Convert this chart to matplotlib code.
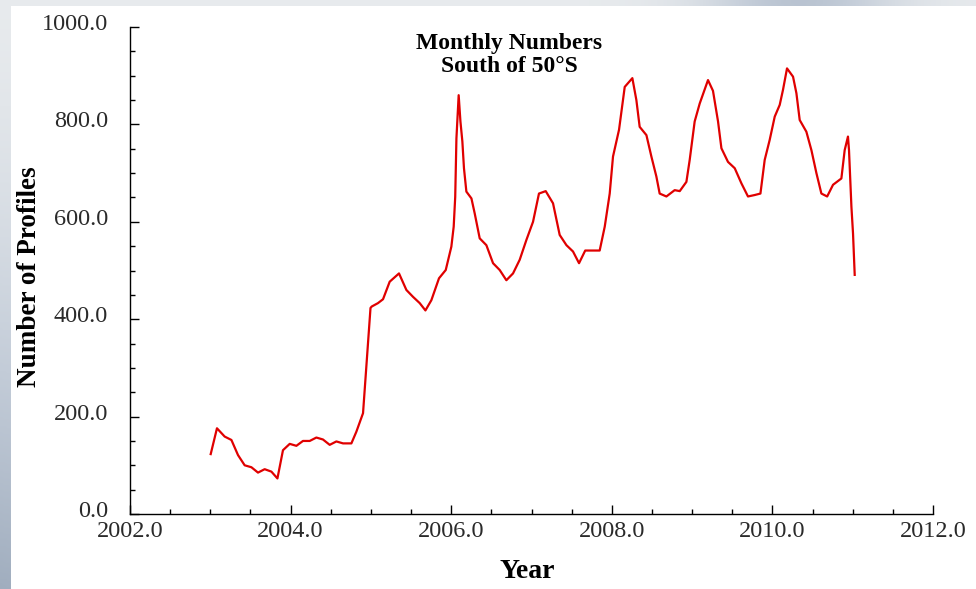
import numpy as np
import matplotlib
matplotlib.use("Agg")
import matplotlib.pyplot as plt
import matplotlib.transforms as mtransforms
from matplotlib.ticker import MultipleLocator, FormatStrFormatter
from matplotlib.patches import Rectangle
from matplotlib.colors import LinearSegmentedColormap

# Monthly profile counts south of 50°S (decimal year, count)
years = [
    2003.005, 2003.083, 2003.179, 2003.263, 2003.345, 2003.428, 2003.512, 2003.594,
    2003.677, 2003.761, 2003.836, 2003.905, 2003.989, 2004.072, 2004.154, 2004.238,
    2004.321, 2004.403, 2004.487, 2004.570, 2004.653, 2004.757, 2004.819, 2004.902,
    2004.995, 2005.010, 2005.088, 2005.151, 2005.234, 2005.350, 2005.442, 2005.524,
    2005.608, 2005.679, 2005.753, 2005.848, 2005.932, 2006.002, 2006.031, 2006.050,
    2006.065, 2006.093, 2006.115, 2006.139, 2006.159, 2006.189, 2006.252, 2006.293,
    2006.355, 2006.438, 2006.521, 2006.604, 2006.687, 2006.770, 2006.853, 2006.937,
    2007.019, 2007.093, 2007.177, 2007.268, 2007.351, 2007.435, 2007.517, 2007.592,
    2007.669, 2007.849, 2007.912, 2007.974, 2008.015, 2008.090, 2008.161, 2008.256,
    2008.306, 2008.347, 2008.431, 2008.493, 2008.555, 2008.596, 2008.680, 2008.783,
    2008.846, 2008.929, 2008.970, 2009.032, 2009.095, 2009.198, 2009.260, 2009.323,
    2009.365, 2009.447, 2009.531, 2009.614, 2009.696, 2009.780, 2009.851, 2009.904,
    2009.966, 2010.029, 2010.091, 2010.132, 2010.182, 2010.257, 2010.299, 2010.340,
    2010.423, 2010.486, 2010.548, 2010.610, 2010.682, 2010.755, 2010.859, 2010.900,
    2010.941, 2010.954, 2010.984, 2011.004, 2011.025,
]
profiles = [
    123, 176, 159, 152, 121, 100, 96, 85,
    92, 87, 73, 131, 144, 140, 150, 150,
    157, 153, 142, 149, 145, 145, 169, 207,
    423, 426, 433, 441, 477, 494, 460, 446,
    433, 418, 439, 484, 501, 549, 590, 651,
    771, 860, 806, 765, 710, 662, 648, 617,
    566, 552, 515, 501, 480, 494, 522, 563,
    600, 658, 663, 638, 573, 552, 539, 515,
    541, 541, 590, 658, 734, 789, 877, 895,
    850, 795, 778, 734, 693, 658, 652, 665,
    663, 682, 727, 806, 843, 891, 869, 806,
    751, 723, 710, 679, 652, 655, 658, 727,
    768, 816, 840, 871, 915, 898, 864, 809,
    785, 747, 700, 658, 652, 676, 689, 747,
    775, 747, 631, 576, 491,
]

title_top = "Monthly Numbers"
title_bottom = "South of 50°S"
x_label = "Year"
y_label = "Number of Profiles"

serif = ["Liberation Serif", "DejaVu Serif"]
plt.rcParams["font.family"] = serif

W, H = 976, 589
fig = plt.figure(figsize=(W / 100, H / 100), dpi=100)
fig.patch.set_facecolor("#d5dbe1")

# soft grey-blue backdrop behind the white panel
bg = fig.add_axes([0, 0, 1, 1], zorder=-10)
gy, gx = np.mgrid[0:1:300j, 0:1:300j]
shade = 0.9 - 0.55 * gy ** 1.5 * (1 - gx) - 0.35 * np.exp(-((gx - 0.82) / 0.1) ** 2) * (1 - gy)
backdrop = LinearSegmentedColormap.from_list("backdrop", ["#9aa8ba", "#c3ccd8", "#eef0f1"])
bg.imshow(shade, cmap=backdrop, vmin=0.3, vmax=0.95, aspect="auto",
          extent=[0, 1, 0, 1], origin="upper")
bg.axis("off")
fig.patches.append(Rectangle((11 / W, 0), 1 - 11 / W, 1 - 6 / H,
                             transform=fig.transFigure, facecolor="white",
                             edgecolor="none", zorder=-5))

ax = fig.add_axes([130 / W, 1 - 514 / H, (933 - 130) / W, (514 - 27) / H])
ax.set_facecolor("none")
ax.plot(years, profiles, color="#e00000", linewidth=1.6)

ax.set_xlim(2002, 2012)
ax.set_ylim(0, 1000)
ax.spines["top"].set_visible(False)
ax.spines["right"].set_visible(False)
for s in ("left", "bottom"):
    ax.spines[s].set_linewidth(1.0)
    ax.spines[s].set_color("black")

ax.xaxis.set_major_locator(MultipleLocator(2))
ax.xaxis.set_minor_locator(MultipleLocator(0.5))
ax.yaxis.set_major_locator(MultipleLocator(200))
ax.yaxis.set_minor_locator(MultipleLocator(50))
ax.xaxis.set_major_formatter(FormatStrFormatter("%.1f"))
ax.yaxis.set_major_formatter(FormatStrFormatter("%.1f"))
ax.tick_params(which="major", direction="in", length=6.5, width=1.0,
               labelsize=17.5, labelcolor="#2a2a2a")
ax.tick_params(which="minor", direction="in", length=3.6, width=1.0)
ax.tick_params(axis="y", which="major", pad=16)
ax.tick_params(axis="x", which="major", pad=5)

# value labels on the y axis sit a little above their ticks
lift = mtransforms.ScaledTranslation(0, 5 / 100, fig.dpi_scale_trans)
for lbl in ax.get_yticklabels():
    lbl.set_transform(lbl.get_transform() + lift)

fig.text(509 / W, 1 - 43 / H, title_top, ha="center", va="center",
         fontsize=17, fontweight="bold")
fig.text(509 / W, 1 - 67 / H, title_bottom, ha="center", va="center",
         fontsize=17, fontweight="bold")
fig.text(527 / W, 1 - 571 / H, x_label, ha="center", va="center",
         fontsize=20, fontweight="bold")
fig.text(30 / W, 1 - 277 / H, y_label, ha="center", va="center",
         fontsize=19.5, fontweight="bold", rotation=90)

fig.savefig("out.png", dpi=100)
